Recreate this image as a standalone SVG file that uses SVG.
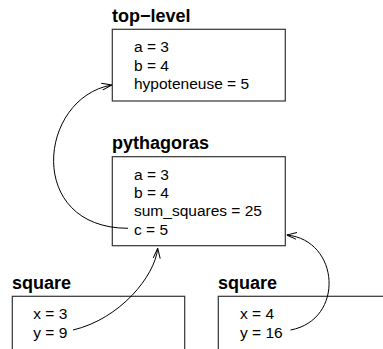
<svg xmlns="http://www.w3.org/2000/svg" width="383" height="349" viewBox="0 0 383 349">
<style>
.title{font-family:"Liberation Sans",Arial,sans-serif;font-weight:bold;font-size:18px;fill:#000}
.var{font-family:"Liberation Sans",Arial,sans-serif;font-size:15.5px;fill:#000}
.box{fill:#fff;stroke:#333;stroke-width:1.2}
.edge{fill:none;stroke:#000;stroke-width:1}
</style>
<defs>
<marker id="arr" viewBox="0 0 10 10" refX="10" refY="5" markerWidth="10" markerHeight="10" markerUnits="userSpaceOnUse" orient="auto">
<path d="M0,1.5 L10,5 L0,8.5" fill="none" stroke="#000" stroke-width="1"/>
</marker>
</defs>
<rect width="383" height="349" fill="#fff"/>
<g id="top-level">
<text class="title" x="112" y="21.7">top−level</text>
<rect class="box" x="112.3" y="29.3" width="173" height="71.7"/>
<text class="var" x="134" y="52.3">a = 3</text>
<text class="var" x="134" y="70.7">b = 4</text>
<text class="var" x="134" y="89">hypoteneuse = 5</text>
</g>
<g id="pythagoras">
<text class="title" x="112" y="149.3">pythagoras</text>
<rect class="box" x="112.3" y="156.7" width="173" height="89"/>
<text class="var" x="134" y="179.8">a = 3</text>
<text class="var" x="134" y="198.1">b = 4</text>
<text class="var" x="134" y="216.4">sum_squares = 25</text>
<text class="var" x="134" y="234.7">c = 5</text>
</g>
<g id="square1">
<text class="title" x="12" y="289">square</text>
<rect class="box" x="12.3" y="296.3" width="172.4" height="70"/>
<text class="var" x="33.3" y="319.3">x = 3</text>
<text class="var" x="33.3" y="337.6">y = 9</text>
</g>
<g id="square2">
<text class="title" x="218" y="289">square</text>
<rect class="box" x="218.3" y="296.3" width="190" height="70"/>
<text class="var" x="240" y="319.3">x = 4</text>
<text class="var" x="240" y="337.6">y = 16</text>
</g>
<g id="connectors">
<path class="edge" d="M128,228.3 C25,228 38,98 111.7,85" marker-end="url(#arr)"/>
<path class="edge" d="M73,330 C120,319 155,276 157.7,248.3" marker-end="url(#arr)"/>
<path class="edge" d="M290.5,330 C345,320 340,240 286.7,235" marker-end="url(#arr)"/>
</g>
</svg>
